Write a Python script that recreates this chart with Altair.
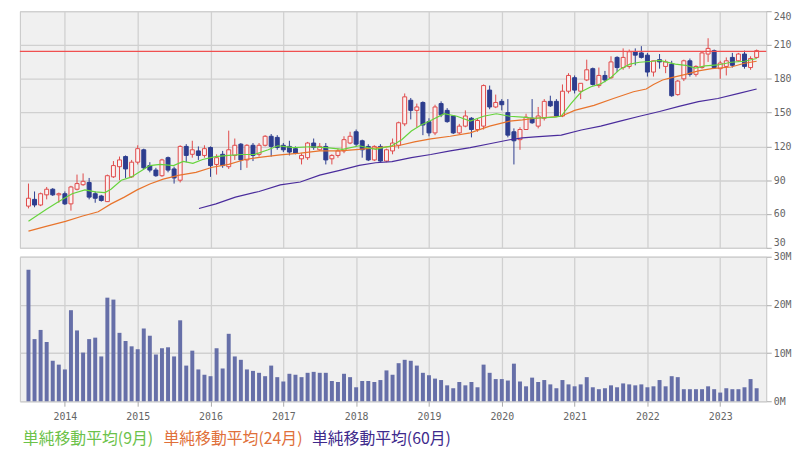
import altair as alt
import pandas as pd

# ---------------- data (monthly, 2013-07 .. 2023-07) ----------------
open_ = [67, 73, 68, 77, 82, 77, 78, 69, 82, 86,
         88, 78, 76, 71, 93, 102, 111, 93, 106, 117,
         103, 99, 94, 110, 100, 90, 120, 113, 116, 112,
         119, 104, 113, 102, 112, 122, 108, 121, 113, 121,
         129, 128, 121, 120, 118, 109, 110, 123, 117, 120,
         109, 112, 116, 123, 133, 125, 120, 108, 120, 107,
         116, 121, 140, 161, 152, 159, 142, 132, 158, 152,
         147, 132, 138, 145, 135, 138, 170, 155, 160, 150,
         133, 126, 135, 145, 138, 145, 160, 160, 147, 169,
         181, 169, 179, 189, 174, 183, 181, 199, 190, 191,
         204, 203, 201, 186, 197, 191, 193, 166, 180, 196,
         184, 190, 202, 205, 189, 191, 199, 196, 202, 190,
         199]
high = [87, 80, 79, 84, 83, 79, 80, 85, 95, 96,
        92, 80, 77, 95, 107, 111, 112, 108, 121, 118,
        106, 101, 109, 111, 102, 121, 122, 125, 120, 121,
        120, 113, 116, 134, 127, 123, 122, 123, 123, 130,
        131, 130, 123, 125, 120, 114, 124, 127, 123, 123,
        113, 118, 129, 133, 135, 126, 122, 121, 122, 118,
        127, 142, 167, 163, 158, 160, 145, 157, 160, 154,
        147, 140, 152, 146, 145, 175, 174, 166, 162, 162,
        136, 137, 149, 162, 155, 162, 165, 162, 175, 185,
        183, 176, 197, 190, 190, 187, 200, 200, 207, 206,
        207, 209, 203, 196, 202, 197, 196, 179, 197, 198,
        192, 204, 216, 206, 196, 199, 203, 203, 205, 200,
        206]
low = [65, 66, 67, 73, 76, 70, 68, 63, 81, 85,
       73, 70, 71, 71, 92, 90, 92, 92, 104, 100,
       97, 93, 93, 97, 87, 88, 106, 110, 108, 110,
       93, 95, 101, 100, 108, 99, 101, 107, 111, 120,
       111, 117, 115, 112, 113, 104, 108, 117, 116, 104,
       104, 110, 114, 122, 120, 110, 107, 107, 106, 106,
       113, 118, 138, 144, 137, 130, 129, 130, 146, 141,
       131, 131, 137, 128, 133, 135, 153, 154, 152, 128,
       104, 117, 135, 140, 136, 143, 155, 146, 146, 167,
       167, 162, 178, 174, 172, 177, 180, 186, 188, 189,
       192, 198, 182, 182, 189, 185, 164, 165, 178, 182,
       182, 189, 195, 189, 180, 183, 190, 195, 189, 188,
       198]
close = [74, 68, 78, 82, 77, 78, 69, 84, 87, 89,
         75, 74, 72, 94, 103, 108, 100, 106, 118, 101,
         99, 94, 108, 99, 92, 120, 112, 117, 112, 118,
         103, 110, 103, 117, 121, 108, 121, 112, 121, 129,
         120, 119, 117, 115, 114, 112, 123, 119, 120, 108,
         112, 116, 126, 129, 122, 117, 108, 120, 107, 117,
         123, 141, 164, 152, 155, 139, 132, 155, 148, 142,
         132, 138, 147, 135, 143, 174, 155, 159, 157, 130,
         125, 135, 146, 141, 147, 160, 156, 147, 169, 183,
         170, 176, 188, 175, 183, 179, 195, 190, 199, 204,
         201, 199, 186, 196, 195, 195, 165, 178, 196, 184,
         191, 203, 207, 190, 194, 196, 192, 202, 191, 198,
         205]
volume_m = [27.3, 12.9, 14.8, 12.3, 8.4, 7.6, 6.6, 18.9, 14.7, 10.1,
            12.9, 13.2, 9.3, 21.5, 21.1, 14.2, 12.5, 11.4, 10.8, 15.1,
            13.6, 9.7, 11.0, 11.2, 9.3, 16.8, 7.4, 10.5, 6.6, 5.5,
            5.2, 11.0, 6.8, 14.0, 9.3, 8.6, 6.6, 6.3, 5.9, 5.2,
            7.4, 5.0, 4.1, 5.7, 5.5, 5.0, 5.9, 6.1, 5.9, 5.9,
            4.2, 4.0, 5.7, 5.0, 2.9, 4.2, 4.2, 4.0, 4.4, 6.4,
            5.5, 7.9, 8.6, 8.4, 7.4, 5.9, 5.4, 4.7, 4.4, 3.3,
            2.7, 4.0, 3.3, 4.0, 2.9, 7.6, 5.9, 4.6, 4.6, 4.3,
            7.8, 4.1, 3.1, 4.9, 4.0, 4.4, 3.5, 2.7, 4.4, 3.5,
            3.1, 3.5, 5.0, 2.9, 2.5, 2.7, 3.3, 2.9, 3.7, 3.5,
            3.3, 3.5, 2.9, 3.1, 4.4, 3.1, 5.2, 5.0, 2.5, 2.5,
            2.5, 2.5, 3.1, 2.5, 1.8, 2.7, 2.5, 2.5, 2.9, 4.6,
            2.7]

# moving averages (month index, value)
ma9_m = [0, 2.9, 5, 7.2, 9.3, 11, 12.6, 13.6, 15.3, 16.9, 19, 20, 21.7, 23.9, 25.5,
         27.1, 28.7, 30.8, 33, 35.1, 37.3, 39.5, 41.1, 43.7, 46.4, 49.1, 51.8, 54.5,
         57.2, 59.9, 61.5, 63.1, 64.7, 66.3, 68.5, 70.6, 72.8, 75, 77.1, 79.3, 81.4,
         83.5, 86.8, 87.8, 89.4, 91.1, 92.7, 94.3, 95.9, 97.5, 99.1, 100.7, 102.9, 104,
         106.6, 108.3, 109.9, 111.5, 113.6, 115.8, 118, 120]
ma9_v = [53.5, 64, 71, 78, 81.4, 79.7, 79, 82, 90, 92.7, 99.7, 103, 104, 103, 106.7,
         105, 108.4, 111, 112, 112.8, 113, 117, 120.6, 118.9, 119.7, 118.9, 117.4, 120.6,
         117.4, 120.6, 126, 133.7, 139, 143, 149, 146.8, 142.4, 146.8, 149, 146.8, 146,
         145, 146, 147, 158, 168.5, 173, 175.5, 180.7, 188.6, 193, 194.7, 195.6, 196.4,
         193, 192, 189.5, 191.5, 192.3, 194.7, 195.6, 198]
ma24_m = [0, 2.9, 6.1, 8.8, 11.5, 13.6, 15.8, 17.9, 20, 22.2, 24.9, 27.6, 30.3, 33,
          35.7, 38.4, 41.5, 44.8, 48, 51.3, 54.5, 57.7, 60.9, 63.6, 66.3, 69.5, 72.8,
          76, 79.3, 81.4, 83.5, 87.8, 90, 93.2, 96.4, 99.7, 101.8, 103, 104.5, 106,
          108.3, 110.4, 112.6, 115.8, 118, 120]
ma24_v = [44.8, 49, 53.5, 58, 62, 69, 75, 81.4, 86.6, 91, 94.5, 97, 101.5, 104,
          108.4, 110.5, 112.5, 114, 116, 116, 117.4, 119, 120.6, 124, 126.7, 129, 132,
          138, 142.4, 143.5, 145, 146.8, 152, 156.4, 162.5, 168.5, 171, 175, 179, 181,
          184, 187, 189, 190.5, 193.8, 195.6]
ma60_m = [28.1, 30.9, 34.1, 38, 41.5, 44.8, 48, 51.3, 54.5, 57.2, 59.9, 63.1, 66.3,
          69.5, 72.8, 76, 79.3, 81.4, 83.5, 87.8, 91.1, 94.3, 97.5, 100.7, 104, 107.2,
          110.4, 113.6, 116.9, 120]
ma60_v = [64.9, 69, 75, 80, 85.8, 88.4, 94.5, 98.8, 103.2, 105.5, 106.5, 110, 112.8,
          116, 118.9, 122.4, 125.9, 127.6, 128.5, 130, 134.6, 138, 142.4, 146.8, 151,
          155.5, 159.8, 162.5, 166.8, 171]

ref_price = [204.3]
year_ticks = [6, 18, 30, 42, 54, 66, 78, 90, 102, 114]
year_labels = ["2014", "2015", "2016", "2017", "2018", "2019", "2020", "2021", "2022", "2023"]
price_ticks = [30, 60, 90, 120, 150, 180, 210, 240]
vol_ticks = [0, 10, 20, 30]
legend_labels = ["単純移動平均(9月)", "単純移動平均(24月)", "単純移動平均(60月)"]

# ---------------- styles ----------------
RED = "#e04a4a"
UPFILL = "#fbf1f1"
BLUE = "#2d3d8e"
GREEN = "#66d43c"
ORANGE = "#e8742c"
PURPLE = "#4a2c9c"
VOLC = "#666fa8"
REFC = "#f05050"
LEG_COLORS = ["#6cc24a", "#e0703a", "#3e2a8c"]
LEG_X = [3, 145, 295]

df = pd.DataFrame({"m": list(range(len(close))), "open": open_, "high": high,
                   "low": low, "close": close, "vol": volume_m})
df["dir"] = ["up" if c >= o else "down" for o, c in zip(open_, close)]

xscale = alt.Scale(domain=[-0.6, 120.77], nice=False, zero=False)
label_expr = "[" + ",".join("'%s'" % s for s in year_labels) + "][indexof([" + \
    ",".join(str(v) for v in year_ticks) + "], datum.value)]"

top_x_axis = alt.Axis(values=year_ticks, labels=False, ticks=False, domain=False,
                      grid=True, title=None)
bot_x_axis = alt.Axis(values=year_ticks, labelExpr=label_expr, ticks=True, tickSize=5,
                      labelPadding=5, domain=False, grid=True, title=None)

ys = alt.Scale(domain=[30, 240], nice=False, zero=False)
price_axis = alt.Axis(orient="right", values=price_ticks, title=None, tickSize=5,
                      labelPadding=2, domain=False, grid=True, format="d",
                      labelFlush=True)
vs = alt.Scale(domain=[0, 30], nice=False)
vol_axis = alt.Axis(orient="right", values=vol_ticks, title=None, tickSize=5,
                    labelPadding=2, domain=False, grid=True,
                    labelExpr="datum.value + 'M'")

xt = alt.X("m:Q", scale=xscale, axis=top_x_axis)
xb = alt.X("m:Q", scale=xscale, axis=bot_x_axis)

wicks = alt.Chart(df).mark_rule(strokeWidth=1).encode(
    x=xt,
    y=alt.Y("low:Q", scale=ys, axis=price_axis),
    y2="high:Q",
    color=alt.Color("dir:N", scale=alt.Scale(domain=["up", "down"], range=[RED, BLUE]), legend=None),
)
bodies = alt.Chart(df).mark_bar(width=4, strokeWidth=1).encode(
    x=xt,
    y=alt.Y("open:Q", scale=ys, axis=price_axis),
    y2="close:Q",
    fill=alt.Fill("dir:N", scale=alt.Scale(domain=["up", "down"], range=[UPFILL, BLUE]), legend=None),
    stroke=alt.Stroke("dir:N", scale=alt.Scale(domain=["up", "down"], range=[RED, BLUE]), legend=None),
)


def ma_line(ms, vals, color):
    return alt.Chart(pd.DataFrame({"m": ms, "v": vals})).mark_line(
        color=color, strokeWidth=1.2).encode(
        x=xt, y=alt.Y("v:Q", scale=ys, axis=price_axis))


ref = alt.Chart(pd.DataFrame({"v": ref_price})).mark_rule(
    stroke=REFC, strokeWidth=1.2, opacity=1).encode(
    y=alt.Y("v:Q", scale=ys, axis=price_axis),
    x=alt.value(0), x2=alt.value(754),
)

top = alt.layer(
    wicks, bodies,
    ma_line(ma60_m, ma60_v, PURPLE),
    ma_line(ma24_m, ma24_v, ORANGE),
    ma_line(ma9_m, ma9_v, GREEN),
    ref,
).properties(width=754, height=239)

vol = alt.Chart(df).mark_bar(width=4, color=VOLC).encode(
    x=xb, y=alt.Y("vol:Q", scale=vs, axis=vol_axis))

texts = []
for lab, col, xp in zip(legend_labels, LEG_COLORS, LEG_X):
    texts.append(
        alt.Chart(pd.DataFrame({"t": [lab]})).mark_text(
            align="left", baseline="middle", font="Noto Sans CJK JP", fontSize=16, color=col
        ).encode(x=alt.value(xp), y=alt.value(184), text="t:N")
    )

bottom = alt.layer(vol, *texts).properties(width=754, height=146)

chart = alt.vconcat(top, bottom, spacing=9, bounds="flush").properties(
    padding={"left": 10, "top": 0, "right": 0, "bottom": 0},
    background="white",
).configure_view(
    fill="#f0f0f0", stroke="#c4c4c4", strokeWidth=1
).configure_axis(
    gridColor="#d0d0d0", gridWidth=1.3, labelFont="DejaVu Sans Mono", labelFontSize=10,
    labelColor="#666666", tickColor="#aaaaaa"
)

chart.save("out.html", embed_options={"renderer": "svg", "actions": False})
